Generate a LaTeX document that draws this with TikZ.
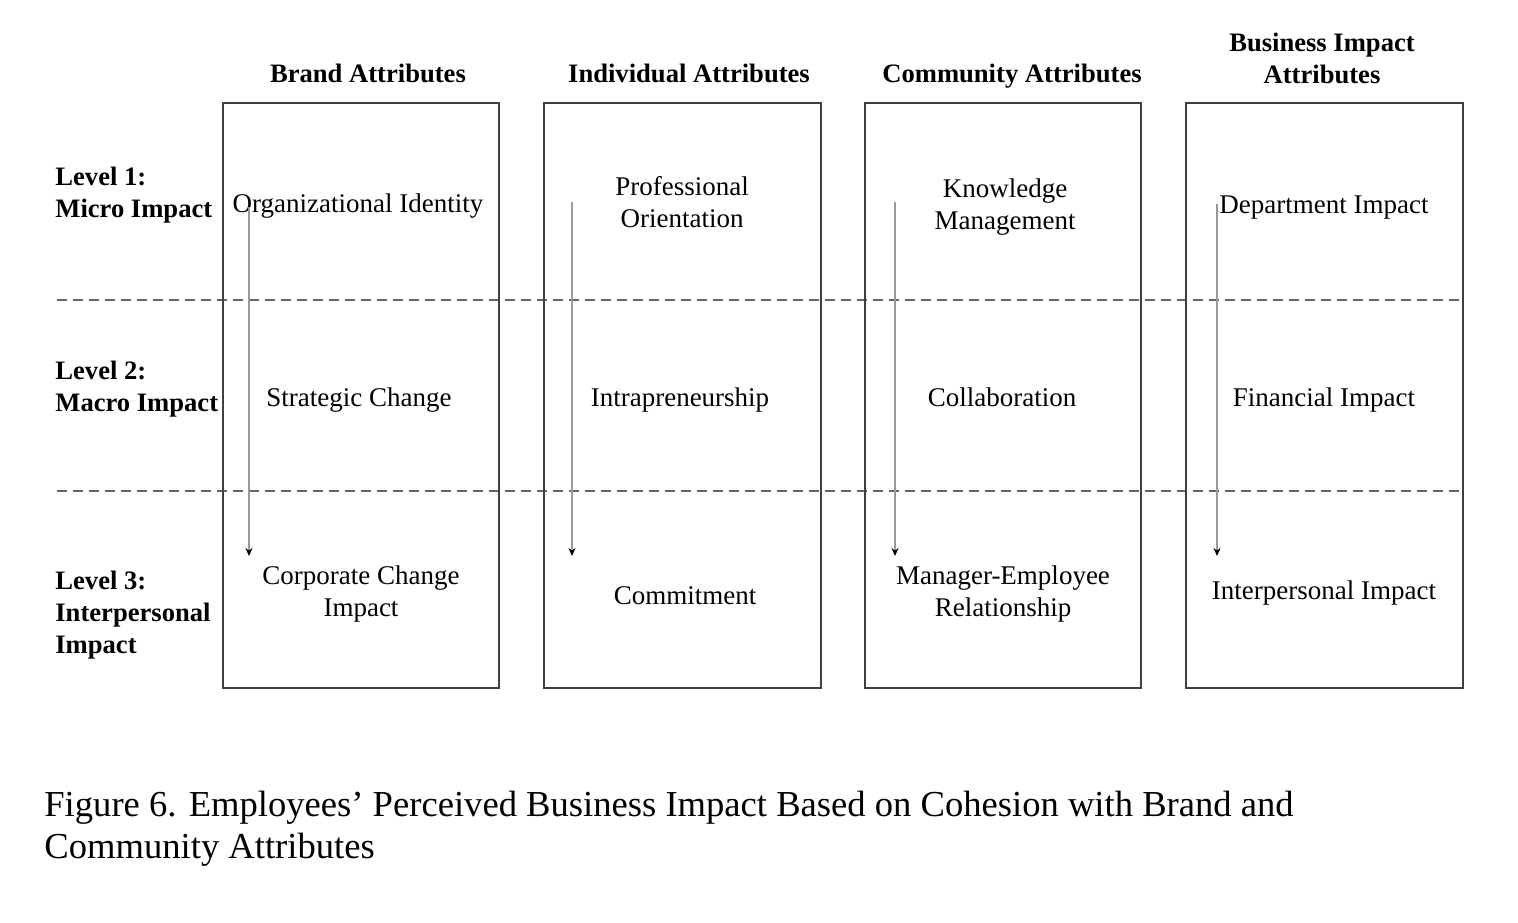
\documentclass[tikz,border=0pt]{standalone}
\usepackage{fontspec}
\setmainfont{Liberation Serif}
\usetikzlibrary{arrows.meta}

\begin{document}
\begin{tikzpicture}[x=0.5pt,y=-0.5pt,
	head/.style={font=\bfseries\fontsize{13.3}{16}\selectfont, align=center},
	level/.style={font=\bfseries\fontsize{13.3}{16}\selectfont, align=left, anchor=west, inner sep=0pt},
	cell/.style={font=\fontsize{13.5}{16}\selectfont, align=center},
	frame/.style={draw=black!75, line width=0.75pt},
	sep/.style={draw=black!60, line width=0.8pt, dash pattern=on 5pt off 3pt},
	flow/.style={draw=black!40, line width=0.6pt, -{Stealth[black,length=4pt,width=3.5pt]}}]

	\useasboundingbox (0,0) rectangle (1518,922);

	% level separators
	\draw[sep] (57,300) -- (1463,300);
	\draw[sep] (57,491) -- (1463,491);

	% columns
	\draw[frame] (223,103) rectangle (499,688);
	\draw[frame] (544,103) rectangle (821,688);
	\draw[frame] (865,103) rectangle (1141,688);
	\draw[frame] (1186,103) rectangle (1463,688);

	% headers
	\node[head] (hBrand) at (368,73) {Brand Attributes};
	\node[head] (hIndiv) at (689,73) {Individual Attributes};
	\node[head] (hComm) at (1012,76) {Community Attributes};
	\node[head] (hBus) at (1322,58) {Business Impact\\Attributes};

	% levels
	\node[level] (lvA) at (55,195) {Level 1:\\Micro Impact};
	\node[level] (lvB) at (55,389) {Level 2:\\Macro Impact};
	\node[level] (lvC) at (55,615) {Level 3:\\Interpersonal\\Impact};

	% cells
	\node[cell] (orgId) at (358,206) {Organizational Identity};
	\node[cell] (profOr) at (682,202) {Professional\\Orientation};
	\node[cell] (knowM) at (1005,207) {Knowledge\\Management};
	\node[cell] (deptI) at (1324,208) {Department Impact};

	\node[cell] (stratC) at (359,400) {Strategic Change};
	\node[cell] (intra) at (680,400) {Intrapreneurship};
	\node[cell] (collab) at (1002,397) {Collaboration};
	\node[cell] (finI) at (1324,400) {Financial Impact};

	\node[cell] (corpC) at (361,594) {Corporate Change\\Impact};
	\node[cell] (commit) at (685,596) {Commitment};
	\node[cell] (mgrEmp) at (1003,594) {Manager-Employee\\Relationship};
	\node[cell] (interI) at (1324,593) {Interpersonal Impact};

	% downward arrows
	\coordinate (aBrandS) at (249,207);
	\coordinate (aBrandE) at (249,556);
	\coordinate (aIndivS) at (572,202);
	\coordinate (aIndivE) at (572,556);
	\coordinate (aCommS) at (895,202);
	\coordinate (aCommE) at (895,556);
	\coordinate (aBusS) at (1217,204);
	\coordinate (aBusE) at (1217,556);
	\draw[flow] (aBrandS) -- (aBrandE);
	\draw[flow] (aIndivS) -- (aIndivE);
	\draw[flow] (aCommS) -- (aCommE);
	\draw[flow] (aBusS) -- (aBusE);

	% caption
	\node[anchor=west, align=left, inner sep=0pt, font=\fontsize{18.3}{21}\selectfont] (capt) at (44,829)
		{Figure 6. Employees’ Perceived Business Impact Based on Cohesion with Brand and\\Community Attributes};

\end{tikzpicture}
\end{document}
